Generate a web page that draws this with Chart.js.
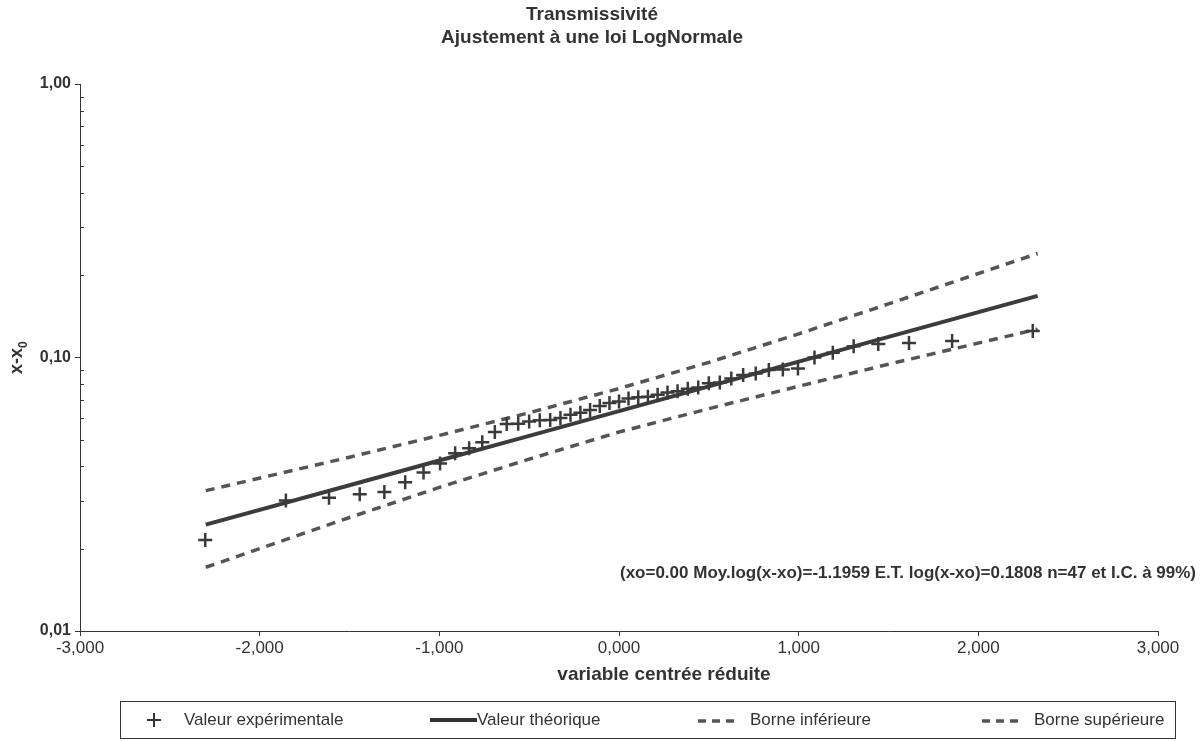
<!DOCTYPE html>
<html>
<head>
<meta charset="utf-8">
<script src="https://cdn.jsdelivr.net/npm/chart.js@4.4.0/dist/chart.umd.min.js"></script>
<style>
  html, body { margin: 0; padding: 0; background: #fff; }
</style>
</head>
<body>
<canvas id="chart-1" width="1200" height="741"></canvas>
<script>
// plotting positions (variable centrée réduite) of the 47 measurements
const zExp = [-2.303, -1.854, -1.614, -1.443, -1.306, -1.190, -1.088, -0.996, -0.912, -0.834,
  -0.761, -0.691, -0.625, -0.561, -0.500, -0.441, -0.383, -0.326, -0.270, -0.215,
  -0.161, -0.107, -0.053, 0.000, 0.053, 0.107, 0.161, 0.215, 0.270, 0.326,
  0.383, 0.441, 0.500, 0.561, 0.625, 0.691, 0.761, 0.834, 0.912, 0.996,
  1.088, 1.190, 1.306, 1.443, 1.614, 1.854, 2.303];
// x - x0
const valExp = [0.0215, 0.0300, 0.0307, 0.0316, 0.0322, 0.0350, 0.0380, 0.0410, 0.0447, 0.0466,
  0.0490, 0.0534, 0.0571, 0.0573, 0.0583, 0.0589, 0.0591, 0.0601, 0.0618, 0.0628,
  0.0643, 0.0665, 0.0682, 0.0690, 0.0708, 0.0716, 0.0719, 0.0731, 0.0744, 0.0753,
  0.0768, 0.0776, 0.0805, 0.0810, 0.0838, 0.0863, 0.0874, 0.0901, 0.0904, 0.0912,
  0.1000, 0.1040, 0.1100, 0.1120, 0.1130, 0.1150, 0.1250];

// fitted law and 99% bounds
const zFit = [-2.30, -1.5, -1.0, -0.5, 0, 0.5, 1.0, 1.5, 2.33];
const valTheo = [0.0245, 0.0341, 0.0420, 0.0517, 0.0637, 0.0784, 0.0966, 0.1189, 0.1680];
const valLow  = [0.0171, 0.0260, 0.0335, 0.0425, 0.0534, 0.0650, 0.0785, 0.0945, 0.1270];
const valHigh = [0.0326, 0.0432, 0.0519, 0.0628, 0.0770, 0.0960, 0.1220, 0.1570, 0.2400];

const xTicks = [-3, -2, -1, 0, 1, 2, 3];
const yMajor = [0.01, 0.1, 1];
const yMinor = [0.02, 0.03, 0.04, 0.05, 0.06, 0.07, 0.08, 0.09, 0.2, 0.3, 0.4, 0.5, 0.6, 0.7, 0.8, 0.9];

const FONT = "'Liberation Sans', Arial, sans-serif";
const INK = "#333";
const pts = (xs, ys) => xs.map((x, i) => ({ x: x, y: ys[i] }));

const decor = {
  id: "decor",
  afterDraw(chart) {
    const c = chart.ctx;
    const ya = chart.scales.y;
    c.save();
    c.fillStyle = INK;
    c.strokeStyle = INK;

    // titles
    c.textAlign = "center";
    c.textBaseline = "alphabetic";
    c.font = "bold 19px " + FONT;
    c.fillText("Transmissivité", 592, 20);
    c.fillText("Ajustement à une loi LogNormale", 592, 43);

    // x axis title
    c.font = "bold 19px " + FONT;
    c.fillText("variable centrée réduite", 664, 680);

    // y axis title x-x0
    c.save();
    c.translate(22, 357);
    c.rotate(-Math.PI / 2);
    c.font = "bold 18px " + FONT;
    c.textAlign = "left";
    const w = c.measureText("x-x").width;
    c.fillText("x-x", -(w + 8) / 2, 0);
    c.font = "bold 12px " + FONT;
    c.fillText("0", -(w + 8) / 2 + w, 5);
    c.restore();

    // minor ticks of the log axis
    c.lineWidth = 1;
    yMinor.forEach(v => {
      const y = Math.round(ya.getPixelForValue(v)) + 0.5;
      c.beginPath();
      c.moveTo(ya.right, y);
      c.lineTo(ya.right + 4, y);
      c.stroke();
    });

    // annotation
    c.font = "bold 17px " + FONT;
    c.textAlign = "right";
    c.fillText("(xo=0.00 Moy.log(x-xo)=-1.1959 E.T. log(x-xo)=0.1808 n=47 et I.C. à 99%)", 1196, 578);

    // legend
    const top = 701, bot = 738, mid = 720;
    c.lineWidth = 1;
    c.strokeRect(120.5, top + 0.5, 1055, bot - top);
    c.font = "17px " + FONT;
    c.textAlign = "left";
    c.textBaseline = "middle";
    // cross
    c.lineWidth = 2;
    c.beginPath();
    c.moveTo(147, mid); c.lineTo(161, mid);
    c.moveTo(154, mid - 7); c.lineTo(154, mid + 7);
    c.stroke();
    c.fillText("Valeur expérimentale", 184, mid);
    // solid line
    c.lineWidth = 4;
    c.beginPath();
    c.moveTo(430, mid); c.lineTo(477, mid);
    c.stroke();
    c.fillText("Valeur théorique", 477, mid);
    // dashed samples
    c.lineWidth = 3.5;
    c.strokeStyle = "#555";
    [[698, "Borne inférieure"], [982, "Borne supérieure"]].forEach(([x0, txt]) => {
      c.setLineDash([8, 6]);
      c.beginPath();
      c.moveTo(x0, mid + 1); c.lineTo(x0 + 38, mid + 1);
      c.stroke();
      c.setLineDash([]);
      c.fillText(txt, x0 + 52, mid);
    });
    c.restore();
  }
};

const ctx1 = document.getElementById("chart-1").getContext("2d");
const myChart = new Chart(ctx1, {
  type: "scatter",
  data: {
    datasets: [
      {
        label: "Valeur expérimentale",
        data: pts(zExp, valExp),
        pointStyle: "cross",
        pointRadius: 7,
        pointBorderWidth: 2.5,
        borderColor: "#3a3a3a",
        backgroundColor: "#3a3a3a",
        showLine: false,
      },
      {
        label: "Valeur théorique",
        data: pts(zFit, valTheo),
        showLine: true,
        borderColor: "#3c3c3c",
        borderWidth: 4,
        pointRadius: 0,
      },
      {
        label: "Borne inférieure",
        data: pts(zFit, valLow),
        showLine: true,
        borderColor: "#555",
        borderWidth: 3.5,
        borderDash: [9, 7],
        pointRadius: 0,
      },
      {
        label: "Borne supérieure",
        data: pts(zFit, valHigh),
        showLine: true,
        borderColor: "#555",
        borderWidth: 3.5,
        borderDash: [9, 7],
        pointRadius: 0,
      },
    ],
  },
  options: {
    responsive: false,
    animation: false,
    devicePixelRatio: 1,
    layout: { padding: { top: 84, right: 42, left: 0, bottom: 0 } },
    plugins: { legend: { display: false }, title: { display: false }, tooltip: { enabled: false } },
    scales: {
      x: {
        type: "linear",
        min: -3,
        max: 3,
        afterBuildTicks: s => { s.ticks = xTicks.map(v => ({ value: v })); },
        afterFit: s => { s.height = 110; },
        ticks: {
          autoSkip: false,
          maxRotation: 0,
          padding: 2,
          color: INK,
          font: { family: FONT, size: 17 },
          callback: v => v.toFixed(3).replace(".", ","),
        },
        grid: { display: true, drawOnChartArea: false, tickLength: 5, color: INK },
        border: { display: true, color: INK, width: 1 },
      },
      y: {
        type: "logarithmic",
        min: 0.01,
        max: 1,
        afterBuildTicks: s => { s.ticks = yMajor.map(v => ({ value: v, major: true })); },
        afterFit: s => { s.width = 80; },
        ticks: {
          autoSkip: false,
          padding: 4,
          color: INK,
          font: { family: FONT, size: 16, weight: "bold" },
          callback: v => Number(v).toFixed(2).replace(".", ","),
        },
        grid: { display: true, drawOnChartArea: false, tickLength: 5, color: INK },
        border: { display: true, color: INK, width: 1 },
      },
    },
  },
  plugins: [decor],
});
</script>
</body>
</html>
